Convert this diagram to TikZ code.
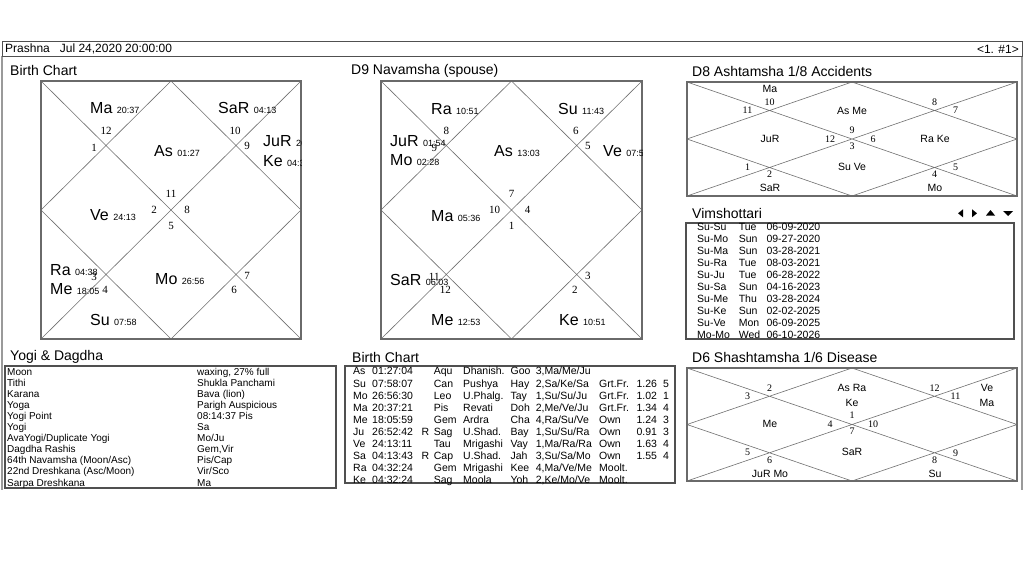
\documentclass[tikz,border=0pt]{standalone}
\usepackage{fontspec}
\setmainfont{Liberation Sans}
\newfontfamily\numfont{Liberation Serif}
\usepackage{xcolor}
\usepackage{tikz}
\usetikzlibrary{calc,positioning}

\definecolor{chgray}{HTML}{707070}
\definecolor{boxgray}{HTML}{6A6A6A}
\definecolor{tblgray}{HTML}{505050}
\definecolor{framegray}{HTML}{9A9A9A}

\newcommand{\pdeg}[1]{{\fontsize{9}{10}\selectfont #1}}

% house number offsets: house/point/dx/dy
\newcommand{\sqoffsets}{1/c/0/-16, 2/ul/0/-15, 3/ul/-12/2, 4/c/-17/0, 5/ll/-12/2, 6/ll/-1/15,
  7/c/0/16, 8/lr/-2/15, 9/lr/11/1, 10/c/16/0, 11/ur/11/0, 12/ur/-1/-15}
\newcommand{\wdoffsets}{1/c/0/-9, 2/ul/0/-8, 3/ul/-22/0, 4/c/-22/0, 5/ll/-22/0, 6/ll/0/7,
  7/c/0/7, 8/lr/0/7, 9/lr/21/0, 10/c/21/0, 11/ur/21/0, 12/ur/0/-8}

% north indian frame: name, x, y, w, h, box style
\newcommand{\chartframe}[6]{%
  \coordinate (#1-nw) at (#2,#3);
  \coordinate (#1-ne) at (#2+#4,#3);
  \coordinate (#1-sw) at (#2,#3+#5);
  \coordinate (#1-se) at (#2+#4,#3+#5);
  \coordinate (#1-n) at (#2+#4/2,#3);
  \coordinate (#1-s) at (#2+#4/2,#3+#5);
  \coordinate (#1-w) at (#2,#3+#5/2);
  \coordinate (#1-e) at (#2+#4,#3+#5/2);
  \coordinate (#1-c) at (#2+#4/2,#3+#5/2);
  \coordinate (#1-ul) at (#2+#4/4,#3+#5/4);
  \coordinate (#1-ur) at (#2+3*#4/4,#3+#5/4);
  \coordinate (#1-ll) at (#2+#4/4,#3+3*#5/4);
  \coordinate (#1-lr) at (#2+3*#4/4,#3+3*#5/4);
  \draw[chline] (#1-nw) -- (#1-se) (#1-ne) -- (#1-sw)
    (#1-n) -- (#1-e) -- (#1-s) -- (#1-w) -- cycle;
  \draw[#6] (#1-nw) rectangle (#1-se);
}

% sign numbers: name, lagna sign, offsets, style
\newcommand{\housenums}[4]{%
  \foreach \h/\p/\dx/\dy in #3 {
    \pgfmathtruncatemacro{\s}{mod(#2+\h-2,12)+1}
    \node[#4] (#1-h\h) at ($(#1-\p)+(\dx,\dy)$) {\s};
  }%
}

\begin{document}
\begin{tikzpicture}[x=1pt,y=-1pt,
    chline/.style={draw=chgray,line width=0.6pt},
    sqbox/.style={draw=boxgray,line width=2.4pt},
    wdbox/.style={draw=boxgray,line width=2pt},
    tblbox/.style={draw=tblgray,line width=1.1pt},
    ttl/.style={anchor=west,inner sep=0pt,font=\fontsize{14}{16}\selectfont},
    pl/.style={anchor=base west,inner sep=0pt,font=\fontsize{16}{18}\selectfont},
    plw/.style={inner sep=0pt,font=\fontsize{10.5}{12}\selectfont},
    hnum/.style={inner sep=0pt,font=\numfont\fontsize{11}{12}\selectfont},
    hnumw/.style={inner sep=0pt,font=\numfont\fontsize{10}{11}\selectfont},
    tbl/.style={anchor=north west,inner sep=0pt}]
  \fill[white] (0,0) rectangle (1024,576);
  \useasboundingbox (0,0) rectangle (1024,576);

  % header and frame
  \draw[framegray,line width=1.2pt] (2,56) -- (2,490) (1022,56) -- (1022,490);
  \draw[draw=tblgray,line width=0.8pt,fill=white] (2,41.5) rectangle (1022,56);
  \node[anchor=west,inner sep=0pt,font=\fontsize{12}{14}\selectfont] (head)
    at (5,49) {Prashna\hspace{10pt}Jul 24,2020 20:00:00};
  \node[anchor=east,inner sep=0pt,font=\fontsize{12}{14}\selectfont] (page)
    at (1019,49) {<1. \#1>};

  % titles
  \node[ttl] (t-birth) at (10,70) {Birth Chart};
  \node[ttl] (t-d9) at (351,71) {D9 Navamsha\hspace{4pt}(spouse)};
  \node[ttl] (t-d8) at (692,71) {D8 Ashtamsha 1/8\hspace{4pt}Accidents};
  \node[ttl] (t-vim) at (692,213) {Vimshottari};
  \node[ttl] (t-yogi) at (10,357) {Yogi \& Dagdha};
  \node[ttl] (t-table) at (352,357) {Birth Chart};
  \node[ttl] (t-d6) at (692,357) {D6 Shashtamsha 1/6\hspace{4pt}Disease};

  % birth chart
  \chartframe{bc}{41}{81}{260}{258}{sqbox}
  \housenums{bc}{11}{\sqoffsets}{hnum}
  \begin{scope}
    \clip (bc-nw) rectangle (bc-se);
    \node[pl] (bc-ma) at (90,113) {Ma \pdeg{20:37}};
    \node[pl] (bc-sa) at (218,113) {SaR \pdeg{04:13}};
    \node[pl] (bc-as) at (154,156) {As \pdeg{01:27}};
    \node[pl] (bc-ju) at (263,146) {JuR \pdeg{26:52}};
    \node[pl] (bc-ke) at (263,166) {Ke \pdeg{04:32}};
    \node[pl] (bc-ve) at (90,220) {Ve \pdeg{24:13}};
    \node[pl] (bc-ra) at (50,275) {Ra \pdeg{04:38}};
    \node[pl] (bc-me) at (50,294) {Me \pdeg{18:05}};
    \node[pl] (bc-mo) at (155,284) {Mo \pdeg{26:56}};
    \node[pl] (bc-su) at (90,325) {Su \pdeg{07:58}};
  \end{scope}

  % navamsha
  \chartframe{nv}{381}{81}{261}{258}{sqbox}
  \housenums{nv}{7}{\sqoffsets}{hnum}
  \begin{scope}
    \clip (nv-nw) rectangle (nv-se);
    \node[pl] (nv-ra) at (431,114) {Ra \pdeg{10:51}};
    \node[pl] (nv-su) at (558,114) {Su \pdeg{11:43}};
    \node[pl] (nv-ju) at (390,146) {JuR \pdeg{01:54}};
    \node[pl] (nv-mo) at (390,165) {Mo \pdeg{02:28}};
    \node[pl] (nv-as) at (494,156) {As \pdeg{13:03}};
    \node[pl] (nv-ve) at (603,156) {Ve \pdeg{07:58}};
    \node[pl] (nv-ma) at (431,221) {Ma \pdeg{05:36}};
    \node[pl] (nv-sa) at (390,285) {SaR \pdeg{06:03}};
    \node[pl] (nv-me) at (431,325) {Me \pdeg{12:53}};
    \node[pl] (nv-ke) at (559,325) {Ke \pdeg{10:51}};
  \end{scope}

  % ashtamsha
  \chartframe{as}{687}{82}{330}{114}{wdbox}
  \housenums{as}{9}{\wdoffsets}{hnumw}
  \node[plw] (as-ma) at (770,89) {Ma};
  \node[plw] (as-1) at (852,111) {As Me};
  \node[plw] (as-ju) at (770,139) {JuR};
  \node[plw] (as-rk) at (935,139) {Ra Ke};
  \node[plw] (as-sv) at (852,167) {Su Ve};
  \node[plw] (as-sa) at (770,188) {SaR};
  \node[plw] (as-mo) at (935,188) {Mo};

  % shashtamsha
  \chartframe{sh}{687}{368}{330}{113}{wdbox}
  \housenums{sh}{1}{\wdoffsets}{hnumw}
  \node[plw] (sh-1) at (852,388) {As Ra};
  \node[plw] (sh-ke) at (852,403) {Ke};
  \node[plw] (sh-ve) at (987,388) {Ve};
  \node[plw] (sh-ma) at (987,403) {Ma};
  \node[plw] (sh-me) at (770,424) {Me};
  \node[plw] (sh-sa) at (852,452) {SaR};
  \node[plw] (sh-jm) at (770,474) {JuR Mo};
  \node[plw] (sh-su) at (935,474) {Su};

  % vimshottari
  \fill (958,213.3) -- (963,209.3) -- (963,217.3) -- cycle;
  \fill (977,213.3) -- (972,209.3) -- (972,217.3) -- cycle;
  \fill (986,215.5) -- (995,215.5) -- (990.5,210) -- cycle;
  \fill (1003,211) -- (1013,211) -- (1008,216) -- cycle;
  \draw[tblbox] (686,223) rectangle (1014,339);
  \node[tbl] (vim) at (697,222.1) {\fontsize{10.5}{12.03}\selectfont
    \begin{tabular}{@{}p{41.6pt}@{}p{27.7pt}@{}l@{}}
      Su-Su & Tue & 06-09-2020\\
      Su-Mo & Sun & 09-27-2020\\
      Su-Ma & Sun & 03-28-2021\\
      Su-Ra & Tue & 08-03-2021\\
      Su-Ju & Tue & 06-28-2022\\
      Su-Sa & Sun & 04-16-2023\\
      Su-Me & Thu & 03-28-2024\\
      Su-Ke & Sun & 02-02-2025\\
      Su-Ve & Mon & 06-09-2025\\
      Mo-Mo & Wed & 06-10-2026
    \end{tabular}};

  % yogi & dagdha
  \draw[tblbox] (5,366) rectangle (336,488);
  \node[tbl] (yogi) at (7,367.5) {\fontsize{10}{11.06}\selectfont
    \begin{tabular}{@{}p{190pt}@{}l@{}}
      Moon & waxing, 27\% full\\
      Tithi & Shukla Panchami\\
      Karana & Bava (lion)\\
      Yoga & Parigh Auspicious\\
      Yogi Point & 08:14:37 Pis\\
      Yogi & Sa\\
      AvaYogi/Duplicate Yogi & Mo/Ju\\
      Dagdha Rashis & Gem,Vir\\
      64th Navamsha (Moon/Asc) & Pis/Cap\\
      22nd Dreshkana (Asc/Moon) & Vir/Sco\\
      Sarpa Dreshkana & Ma
    \end{tabular}};

  % planet table
  \draw[tblbox] (345,366) rectangle (675,483);
  \node[tbl] (planets) at (353,366.3) {\fontsize{10.5}{12.1}\selectfont
    \begin{tabular}{@{}p{19pt}@{}p{49.4pt}@{}p{12.3pt}@{}p{29.3pt}@{}p{47.4pt}@{}p{25.3pt}@{}p{63.3pt}@{}p{37.4pt}@{}p{26.6pt}@{}l@{}}
      As & 01:27:04 & & Aqu & Dhanish. & Goo & 3,Ma/Me/Ju & & & \\
      Su & 07:58:07 & & Can & Pushya & Hay & 2,Sa/Ke/Sa & Grt.Fr. & 1.26 & 5\\
      Mo & 26:56:30 & & Leo & U.Phalg. & Tay & 1,Su/Su/Ju & Grt.Fr. & 1.02 & 1\\
      Ma & 20:37:21 & & Pis & Revati & Doh & 2,Me/Ve/Ju & Grt.Fr. & 1.34 & 4\\
      Me & 18:05:59 & & Gem & Ardra & Cha & 4,Ra/Su/Ve & Own & 1.24 & 3\\
      Ju & 26:52:42 & R & Sag & U.Shad. & Bay & 1,Su/Su/Ra & Own & 0.91 & 3\\
      Ve & 24:13:11 & & Tau & Mrigashi & Vay & 1,Ma/Ra/Ra & Own & 1.63 & 4\\
      Sa & 04:13:43 & R & Cap & U.Shad. & Jah & 3,Su/Sa/Mo & Own & 1.55 & 4\\
      Ra & 04:32:24 & & Gem & Mrigashi & Kee & 4,Ma/Ve/Me & Moolt. & & \\
      Ke & 04:32:24 & & Sag & Moola & Yoh & 2,Ke/Mo/Ve & Moolt. & &
    \end{tabular}};
\end{tikzpicture}
\end{document}
